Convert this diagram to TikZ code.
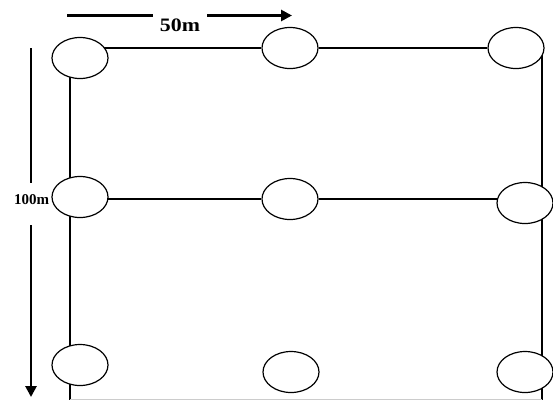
\documentclass[tikz,border=0pt]{standalone}
\usepackage{fontspec}
\setmainfont{Liberation Serif}[BoldFont={Liberation Serif Bold}]
\usetikzlibrary{arrows.meta,backgrounds,shapes.geometric}
\begin{document}
\begin{tikzpicture}[x=1pt,y=-1pt,
  plot/.style={draw=black, line width=1.2pt, fill=white, ellipse, minimum width=56pt, minimum height=41pt, inner sep=0pt},
  wire/.style={draw=black, line width=1.1pt},
  dimline/.style={draw=black, line width=2.7pt},
  dimarrow/.style={dimline, -{Triangle[length=11pt,width=11pt]}},
  dimlabel/.style={font=\bfseries, inner sep=0pt, text=black}
]
\useasboundingbox (0,0) rectangle (553,400);
% plots
\node[plot] (A1) at (80,58) {};
\node[plot] (B1) at (290,48) {};
\node[plot] (C1) at (516,48) {};
\node[plot] (A2) at (80,197) {};
\node[plot] (B2) at (290,199) {};
\node[plot] (C2) at (525,203) {};
\node[plot] (A3) at (80,365) {};
\node[plot] (B3) at (291,372) {};
\node[plot] (C3) at (525,372) {};
\coordinate (Lbot) at (70,399.6);
\coordinate (Rbot) at (542,399.6);
\begin{scope}[on background layer]
  \draw[wire] (A1 |- B1) -- (B1) -- (C1);
  \draw[wire] (A2 |- B2) -- (B2) -- (C2 |- B2);
  \draw[wire] (A1 -| Lbot) -- (Lbot);
  \draw[wire] (C1 -| Rbot) -- (Rbot);
  \draw[draw=black!20, line width=0.6pt] (Lbot) -- (Rbot);
\end{scope}
% dimension labels
\node[dimlabel, font=\fontsize{19}{19}\bfseries\selectfont] (L50) at (180,25) {\scalebox{1.15}[1]{50m}};
\coordinate (ta) at (67,15.5);
\coordinate (tg1) at (153,15.5);
\coordinate (tg2) at (207,15.5);
\coordinate (tb) at (292,15.5);
\draw[dimline] (ta) -- (tg1);
\draw[dimarrow] (tg2) -- (tb);
\node[dimlabel, font=\fontsize{15}{15}\bfseries\selectfont] (L100) at (31.5,199.5) {100m};
\coordinate (la) at (31,48);
\coordinate (lg1) at (31,183);
\coordinate (lg2) at (31,225);
\coordinate (lb) at (31,397);
\draw[dimline] (la) -- (lg1);
\draw[dimarrow] (lg2) -- (lb);
\end{tikzpicture}
\end{document}
